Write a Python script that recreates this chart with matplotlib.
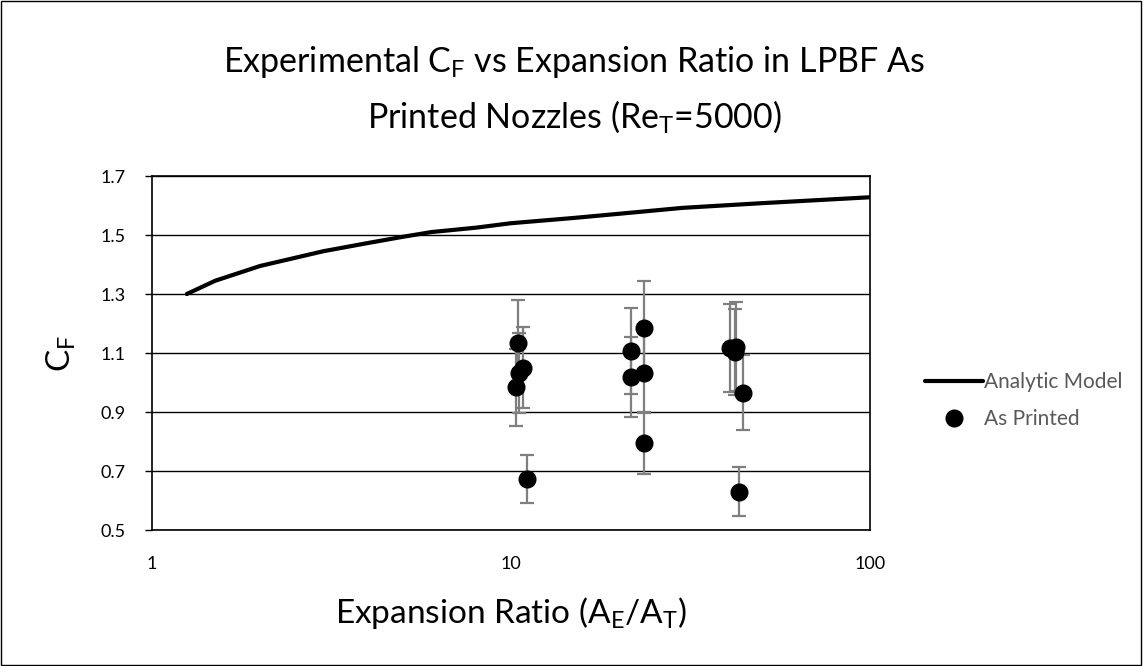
import matplotlib
matplotlib.use("Agg")
import matplotlib.pyplot as plt
from matplotlib.patches import Rectangle
from matplotlib.lines import Line2D
from matplotlib.ticker import FixedLocator, NullLocator

FONT = "Lato"
plt.rcParams["font.family"] = [FONT, "DejaVu Sans"]
plt.rcParams["mathtext.fontset"] = "custom"
plt.rcParams["mathtext.rm"] = FONT
plt.rcParams["mathtext.it"] = FONT

# analytic model curve
model_ratio = [1.25, 1.5, 2, 3, 4, 5, 6, 8, 10, 15, 20, 30, 50, 100]
model_cf = [1.30, 1.345, 1.395, 1.445, 1.473, 1.494, 1.51, 1.525, 1.54,
            1.558, 1.572, 1.592, 1.608, 1.628]

# as printed measurements
printed_ratio = [10.44, 10.82, 10.5, 10.33, 11.08,
                 21.55, 21.55, 23.47, 23.47, 23.5,
                 40.7, 42.3, 42.0, 44.4, 43.2]
printed_cf = [1.135, 1.050, 1.033, 0.984, 0.672,
              1.107, 1.018, 1.186, 1.033, 0.794,
              1.117, 1.122, 1.104, 0.965, 0.630]
printed_err = [0.145, 0.138, 0.136, 0.131, 0.081,
               0.145, 0.136, 0.158, 0.135, 0.105,
               0.148, 0.150, 0.145, 0.127, 0.083]

fig = plt.figure(figsize=(11.48, 6.66), dpi=100)
ax = fig.add_axes([0.1324, 0.2042, 0.6254, 0.5315])

ax.plot(model_ratio, model_cf, color="black", lw=3.0, solid_capstyle="round", zorder=3)
ax.errorbar(printed_ratio, printed_cf, yerr=printed_err, fmt="o", color="black",
            ms=12, ecolor="#7f7f7f", elinewidth=1.6, capsize=5, capthick=1.6, zorder=4)

ax.set_xscale("log")
ax.set_xlim(1, 100)
ax.set_ylim(0.5, 1.7)
ax.xaxis.set_major_locator(FixedLocator([1, 10, 100]))
ax.xaxis.set_minor_locator(NullLocator())
ax.set_xticklabels(["1", "10", "100"])
ax.set_yticks([0.5, 0.7, 0.9, 1.1, 1.3, 1.5, 1.7])
ax.set_yticklabels(["0.5", "0.7", "0.9", "1.1", "1.3", "1.5", "1.7"])
ax.tick_params(axis="x", length=0, labelsize=13, pad=19)
ax.tick_params(axis="y", length=5, width=1, labelsize=13, pad=14)
ax.grid(axis="y", color="black", lw=1)
ax.set_axisbelow(True)
for s in ax.spines.values():
    s.set_color("black")
    s.set_linewidth(1.2)

fig.text(0.5, 1 - 62 / 666, "Experimental C$_\\mathrm{F}$ vs Expansion Ratio in LPBF As",
         fontsize=24.5, ha="center", va="center")
fig.text(0.5, 1 - 117 / 666, "Printed Nozzles (Re$_\\mathrm{T}$=5000)",
         fontsize=24.5, ha="center", va="center")
ax.set_xlabel("Expansion Ratio (A$_\\mathrm{E}$/A$_\\mathrm{T}$)", fontsize=24, labelpad=16)
ax.set_ylabel("C$_\\mathrm{F}$", fontsize=24, labelpad=16)

handles = [
    Line2D([], [], color="black", lw=3.0, solid_capstyle="round"),
    Line2D([], [], color="black", marker="o", ms=12, ls="none"),
]
leg = ax.legend(handles, ["Analytic Model", "As Printed"], loc="center left",
                bbox_to_anchor=(1.05, 0.365), frameon=False, fontsize=15,
                handlelength=2.8, handletextpad=0.05, labelspacing=0.8)
for t in leg.get_texts():
    t.set_color("#595959")

fig.patches.append(Rectangle((0.001, 0.001), 0.993, 0.997, transform=fig.transFigure,
                             fill=False, edgecolor="black", lw=1.0))

fig.savefig("out.png", dpi=100)
